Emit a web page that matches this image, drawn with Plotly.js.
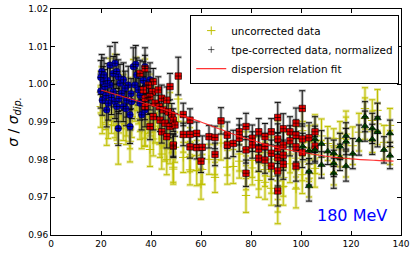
<!DOCTYPE html>
<html>
<head>
<meta charset="utf-8">
<script src="https://cdn.plot.ly/plotly-3.0.1.min.js"></script>
<style>html,body{margin:0;padding:0;background:#fff;}#chart{width:415px;height:254px;}</style>
</head>
<body>
<div id="chart"></div>
<script>
// ---- blue set (small angles) ----
const blueX = [20.3,19.9,20.9,19.9,20.5,21.6,22.3,23.6,24.9,25.6,23.6,24.9,25.6,26.3,26.9,22.9,27.6,28.3,26.9,26.3,28.9,30.3,30.9,31.6,31.6,32.3,32.9,33.9,34.3,33.6,34.9,35.6,36.3,37.6,38.3,37.6,39.6,35.6,21.2,22.0,24.2,27.2,29.6,30.0,22.6,36.9,38.9,29.0,32.0];
const blueY = [1.0034,1.0018,1.0007,0.9982,0.9958,0.9994,0.9932,1.0051,1.0029,1.0056,0.9998,0.9980,0.9954,0.9941,0.9883,0.9950,1.0003,0.9976,1.0020,1.0034,0.9941,0.9958,0.9998,0.9888,0.9919,0.9954,1.0047,1.0053,1.0025,0.9998,0.9985,0.9950,0.9919,0.9932,0.9998,1.0047,1.0012,0.9971,1.0025,0.9970,0.9965,0.9962,0.9990,0.9935,1.0010,1.0010,0.9965,1.0012,0.9975];
const blueErr = [0.0045,0.0045,0.0040,0.0045,0.0040,0.0045,0.0045,0.0050,0.0045,0.0055,0.0045,0.0040,0.0045,0.0040,0.0045,0.0045,0.0050,0.0045,0.0045,0.0045,0.0040,0.0045,0.0050,0.0045,0.0040,0.0045,0.0050,0.0050,0.0045,0.0045,0.0040,0.0045,0.0040,0.0045,0.0045,0.0050,0.0045,0.0045,0.0045,0.0040,0.0045,0.0040,0.0045,0.0045,0.0045,0.0050,0.0045,0.0045,0.0040];
const blueUnc = [0.9992,0.9979,0.9966,0.9941,0.9919,0.9953,0.9893,1.0009,0.9990,1.0015,0.9957,0.9941,0.9913,0.9902,0.9843,0.9911,0.9962,0.9937,0.9979,0.9994,0.9901,0.9918,0.9958,0.9849,0.9879,0.9914,1.0006,1.0012,0.9985,0.9957,0.9945,0.9909,0.9879,0.9892,0.9957,1.0007,0.9972,0.9930,0.9984,0.9930,0.9925,0.9921,0.9949,0.9895,0.9970,0.9969,0.9924,0.9971,0.9934];
const blueUncErr = [0.0055,0.0055,0.0050,0.0055,0.0050,0.0055,0.0055,0.0060,0.0055,0.0065,0.0055,0.0050,0.0055,0.0050,0.0055,0.0055,0.0060,0.0055,0.0055,0.0055,0.0050,0.0055,0.0060,0.0055,0.0050,0.0055,0.0060,0.0060,0.0055,0.0055,0.0050,0.0055,0.0050,0.0055,0.0055,0.0060,0.0055,0.0055,0.0055,0.0050,0.0055,0.0050,0.0055,0.0055,0.0055,0.0060,0.0055,0.0055,0.0050];

// ---- red set (medium angles) ----
const redX = [35.6,37.6,40.9,40.5,38.9,36.9,37.6,39.6,37.6,40.9,39.6,41.6,42.9,44.3,46.3,47.6,43.3,44.9,46.9,48.3,43.6,45.6,47.6,48.9,49.6,48.9,44.3,46.3,48.9,50.9,52.9,52.9,55.6,55.6,55.6,58.3,58.3,60.5,60.0,63.2,65.6,65.6,68.0,70.5,70.5,72.9,75.3,75.3,78.0,78.0,78.0,80.5,80.5,83.1,83.1,83.1,85.6,85.6,85.6,88.1,88.1,88.1,90.7,90.7,90.7,90.7,90.7,90.7,92.9,92.9,92.9,92.9,95.6,95.6,98.0,98.0,98.0,98.0,100.5,100.5,100.5,103.2,105.6,105.6];
const redY = [1.0029,1.0042,1.0007,0.9980,0.9998,0.9985,0.9963,0.9967,0.9941,0.9914,0.9888,0.9950,0.9985,0.9963,0.9958,0.9994,0.9941,0.9932,0.9927,0.9919,0.9905,0.9897,0.9888,0.9905,0.9892,0.9836,0.9874,0.9861,0.9839,1.0022,0.9920,0.9867,0.9905,0.9867,0.9834,0.9870,0.9832,0.9833,0.9796,0.9861,0.9859,0.9814,0.9903,0.9865,0.9839,0.9843,0.9874,0.9857,0.9888,0.9826,0.9764,0.9857,0.9839,0.9874,0.9828,0.9804,0.9861,0.9835,0.9799,0.9874,0.9817,0.9783,0.9912,0.9855,0.9830,0.9805,0.9770,0.9717,0.9882,0.9839,0.9812,0.9788,0.9874,0.9850,0.9897,0.9865,0.9834,0.9783,0.9936,0.9855,0.9819,0.9858,0.9874,0.9836];
const redErr = [0.0035,0.0035,0.0035,0.0035,0.0035,0.0035,0.0035,0.0035,0.0035,0.0035,0.0035,0.0035,0.0035,0.0035,0.0035,0.0035,0.0030,0.0030,0.0030,0.0030,0.0030,0.0030,0.0030,0.0030,0.0030,0.0030,0.0030,0.0030,0.0030,0.0050,0.0030,0.0030,0.0030,0.0030,0.0030,0.0030,0.0030,0.0030,0.0030,0.0030,0.0030,0.0030,0.0035,0.0035,0.0035,0.0035,0.0035,0.0035,0.0035,0.0035,0.0035,0.0035,0.0035,0.0035,0.0035,0.0035,0.0035,0.0035,0.0035,0.0035,0.0035,0.0035,0.0040,0.0040,0.0040,0.0040,0.0040,0.0040,0.0040,0.0040,0.0040,0.0040,0.0040,0.0040,0.0040,0.0040,0.0040,0.0040,0.0047,0.0040,0.0040,0.0040,0.0040,0.0040];
const redUnc = [0.9970,0.9981,0.9948,0.9919,0.9937,0.9926,0.9902,0.9908,0.9880,0.9855,0.9827,0.9889,0.9925,0.9902,0.9899,0.9933,0.9881,0.9871,0.9868,0.9858,0.9846,0.9836,0.9829,0.9844,0.9833,0.9775,0.9815,0.9800,0.9780,0.9961,0.9860,0.9806,0.9845,0.9808,0.9773,0.9811,0.9771,0.9774,0.9735,0.9801,0.9800,0.9753,0.9844,0.9804,0.9780,0.9782,0.9815,0.9796,0.9829,0.9765,0.9705,0.9798,0.9778,0.9815,0.9767,0.9745,0.9802,0.9774,0.9740,0.9815,0.9756,0.9724,0.9853,0.9794,0.9771,0.9744,0.9711,0.9680,0.9823,0.9778,0.9753,0.9729,0.9815,0.9789,0.9838,0.9804,0.9775,0.9722,0.9877,0.9794,0.9760,0.9799,0.9813,0.9777];
const redUncErr = [0.0045,0.0045,0.0045,0.0045,0.0045,0.0045,0.0045,0.0045,0.0045,0.0045,0.0045,0.0045,0.0045,0.0045,0.0045,0.0045,0.0040,0.0040,0.0040,0.0040,0.0040,0.0040,0.0040,0.0040,0.0040,0.0040,0.0040,0.0040,0.0040,0.0060,0.0040,0.0040,0.0040,0.0040,0.0040,0.0040,0.0040,0.0040,0.0040,0.0040,0.0040,0.0040,0.0045,0.0045,0.0045,0.0045,0.0045,0.0045,0.0045,0.0045,0.0045,0.0045,0.0045,0.0045,0.0045,0.0045,0.0045,0.0045,0.0045,0.0045,0.0045,0.0045,0.0050,0.0050,0.0050,0.0050,0.0050,0.0050,0.0050,0.0050,0.0050,0.0050,0.0050,0.0050,0.0050,0.0050,0.0050,0.0050,0.0055,0.0050,0.0050,0.0050,0.0050,0.0050];

// ---- green set (large angles) ----
const greenX = [100.7,103.2,103.2,103.2,105.6,105.6,108.2,108.2,110.7,113.1,113.1,113.1,115.6,115.6,118.0,118.0,118.0,120.7,123.2,125.6,125.6,128.5,128.5,130.6,130.6,133.2,135.6,135.6];
const greenY = [0.9835,0.9824,0.9768,0.9730,0.9854,0.9826,0.9842,0.9786,0.9822,0.9817,0.9790,0.9764,0.9835,0.9806,0.9863,0.9848,0.9783,0.9816,0.9852,0.9914,0.9889,0.9883,0.9854,0.9910,0.9874,0.9826,0.9870,0.9811];
const greenErr = [0.0035,0.0035,0.0035,0.0040,0.0035,0.0035,0.0035,0.0035,0.0035,0.0035,0.0035,0.0040,0.0035,0.0035,0.0035,0.0035,0.0040,0.0040,0.0040,0.0040,0.0040,0.0040,0.0040,0.0040,0.0040,0.0035,0.0035,0.0035];
const greenUnc = [0.9856,0.9845,0.9787,0.9751,0.9874,0.9847,0.9863,0.9806,0.9843,0.9837,0.9811,0.9783,0.9856,0.9826,0.9884,0.9868,0.9804,0.9837,0.9873,0.9936,0.9909,0.9904,0.9874,0.9931,0.9895,0.9846,0.9891,0.9832];
const greenUncErr = [0.0045,0.0045,0.0045,0.0050,0.0045,0.0045,0.0045,0.0045,0.0045,0.0045,0.0045,0.0050,0.0045,0.0045,0.0045,0.0045,0.0050,0.0050,0.0050,0.0055,0.0055,0.0055,0.0055,0.0055,0.0055,0.0045,0.0045,0.0045];

// ---- dispersion relation fit ----
const fitX = [20,30,40,50,60,70,80,90,100,110,120,130,137];
const fitY = [0.9985,0.9965,0.9945,0.9922,0.9900,0.9875,0.9852,0.9833,0.9820,0.9809,0.9802,0.9798,0.9796];

const names = ['uncorrected data','tpe-corrected data, normalized','dispersion relation fit'];

const allX = blueX.concat(redX, greenX);
const allY = blueY.concat(redY, greenY);
const allErr = blueErr.concat(redErr, greenErr);
const allUnc = blueUnc.concat(redUnc, greenUnc);
const allUncErr = blueUncErr.concat(redUncErr, greenUncErr);

const traces = [
  // yellow halo
  {x: allX, y: allUnc, type:'scatter', mode:'markers', showlegend:false, hoverinfo:'skip',
   marker:{size:1, color:'rgba(0,0,0,0)'},
   error_y:{type:'data', array: allUncErr, visible:true, color:'rgba(215,215,90,0.55)', thickness:3, width:3.5}},
  {x: allX, y: allUnc, type:'scatter', mode:'markers', name: names[0],
   marker:{symbol:'cross-thin-open', size:6, color:'#bfbf00', line:{color:'#bfbf00', width:1}},
   error_y:{type:'data', array: allUncErr, visible:true, color:'#bfbf00', thickness:1, width:3}},
  // grey halo + black bars for corrected
  {x: allX, y: allY, type:'scatter', mode:'markers', showlegend:false, hoverinfo:'skip',
   marker:{size:1, color:'rgba(0,0,0,0)'},
   error_y:{type:'data', array: allErr, visible:true, color:'rgba(140,140,140,0.55)', thickness:3, width:3.5}},
  {x: allX, y: allY, type:'scatter', mode:'markers', showlegend:false, hoverinfo:'skip',
   marker:{size:1, color:'rgba(0,0,0,0)'},
   error_y:{type:'data', array: allErr, visible:true, color:'#000', thickness:0.9, width:3}},
  {x: blueX, y: blueY, type:'scatter', mode:'markers', showlegend:false,
   marker:{symbol:'circle', size:6.5, color:'#0000d0', line:{color:'#000044', width:0.6}}},
  {x: redX, y: redY, type:'scatter', mode:'markers', showlegend:false,
   marker:{symbol:'square', size:6.5, color:'#ee0000', line:{color:'#000000', width:0.6}}},
  {x: greenX, y: greenY, type:'scatter', mode:'markers', showlegend:false,
   marker:{symbol:'triangle-up', size:6.5, color:'#006400', line:{color:'#000000', width:0.6}}},
  {x: allX, y: allY, type:'scatter', mode:'markers', name: names[1],
   marker:{symbol:'cross-thin-open', size:4.5, color:'rgba(0,0,0,0.8)', line:{color:'rgba(0,0,0,0.8)', width:0.8}}},
  {x: fitX, y: fitY, type:'scatter', mode:'lines', name: names[2], line:{shape:'spline', color:'rgba(255,30,30,0.9)', width:1.1}}
];

const axisCommon = {showline:true, linecolor:'#000', linewidth:1, mirror:'ticks', ticks:'inside', ticklen:4, tickcolor:'#000',
  showgrid:false, zeroline:false, tickfont:{family:'DejaVu Sans', size:9, color:'#000'}};

const layout = {
  width:415, height:254,
  margin:{l:51, r:14, t:9, b:19},
  paper_bgcolor:'#fff', plot_bgcolor:'#fff',
  font:{family:'DejaVu Sans', color:'#000'},
  xaxis: Object.assign({}, axisCommon, {range:[0,140], dtick:20, tick0:0}),
  yaxis: Object.assign({}, axisCommon, {range:[0.96,1.02], dtick:0.01, tick0:0.96, tickformat:'.2f',
     title:{text:'<i>σ</i> / <i>σ</i><sub><i>dip.</i></sub>', font:{family:'DejaVu Sans', size:14}, standoff:6}}),
  showlegend:true,
  legend:{x:0.995, xanchor:'right', y:0.973, yanchor:'top', bgcolor:'#fff', bordercolor:'#000', borderwidth:1,
    font:{family:'DejaVu Sans', size:10.4}, tracegroupgap:0, itemwidth:30},
  annotations:[{text:'180 MeV', xref:'paper', yref:'paper', x:0.86, y:0.088, xanchor:'center', yanchor:'middle',
    showarrow:false, font:{family:'DejaVu Sans', size:16, color:'#0000ff'}}]
};

Plotly.newPlot('chart', traces, layout, {displayModeBar:false, staticPlot:true});
</script>
</body>
</html>
